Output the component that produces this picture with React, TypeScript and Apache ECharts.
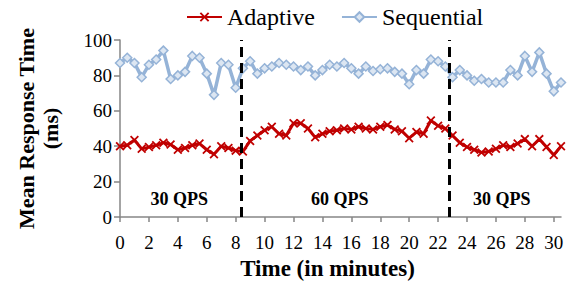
import React, { useEffect, useRef } from "react";
import * as echarts from "echarts";

const minutes = [
  0, 0.5, 1, 1.5, 2, 2.5, 3, 3.5, 4, 4.5, 5, 5.5, 6, 6.5, 7, 7.5, 8, 8.5, 9, 9.5,
  10, 10.5, 11, 11.5, 12, 12.5, 13, 13.5, 14, 14.5, 15, 15.5, 16, 16.5, 17, 17.5,
  18, 18.5, 19, 19.5, 20, 20.5, 21, 21.5, 22, 22.5, 23, 23.5, 24, 24.5, 25, 25.5,
  26, 26.5, 27, 27.5, 28, 28.5, 29, 29.5, 30, 30.5,
];

const adaptive = [
  40, 40.5, 43.5, 38.5, 39.5, 40.5, 42, 41, 38, 39,
  40.5, 41.5, 38, 35.5, 40, 39, 37.5, 37,
  43, 46, 49, 51, 47, 46, 53, 53, 50, 45, 47, 48.5, 49,
  50, 49.5, 51, 50, 49.5, 51, 52, 49.5, 48.5, 44.5,
  48, 47, 54.5, 51.5, 50, 46, 42, 39.5, 38, 36.5, 37, 38.5,
  40.5, 39.5, 41.5, 44, 40, 44, 39.5, 35, 40,
];

const sequential = [
  87, 90, 87, 79, 86, 89, 94, 78, 80, 82,
  91, 90, 81, 69, 87, 86, 73, 84,
  88, 81, 84, 85, 87, 86, 85, 83, 85, 80, 83, 86, 85,
  87, 84, 81, 85, 82.5, 83.5, 84, 82, 81, 75,
  83, 81, 89, 88, 85, 79, 83, 80, 77, 78, 76, 76,
  76, 83, 80, 91, 82, 93, 81, 71, 76,
];

const xTicks = [0, 2, 4, 6, 8, 10, 12, 14, 16, 18, 20, 22, 24, 26, 28, 30];
const phaseBoundaries = [8.4, 22.8];
const phaseLabels = [
  { t: 4.1, v: 10, text: "30 QPS" },
  { t: 15.2, v: 10, text: "60 QPS" },
  { t: 26.4, v: 10, text: "30 QPS" },
];

const FONT = "Liberation Serif";
const X_PATH =
  "path://M0,1.4L1.4,0L5,3.6L8.6,0L10,1.4L6.4,5L10,8.6L8.6,10L5,6.4L1.4,10L0,8.6L3.6,5Z";

export default function App() {
  const ref = useRef<HTMLDivElement>(null);
  useEffect(() => {
    document.body.style.margin = "0";
    if (!ref.current) return;
    const chart = echarts.init(ref.current, null, { renderer: "svg" });
    const pair = (arr: number[]) => minutes.map((m, i) => [m, arr[i]]);
    chart.setOption({
      animation: false,
      textStyle: { fontFamily: FONT },
      legend: {
        left: 181,
        top: 0,
        itemWidth: 35,
        itemHeight: 12,
        itemGap: 26,
        textStyle: { fontFamily: FONT, fontSize: 24, color: "#000" },
        data: ["Adaptive", "Sequential"],
      },
      grid: { left: 120, right: 21, top: 40, bottom: 70, outerBoundsMode: "none" },
      xAxis: {
        type: "value",
        min: 0,
        max: 30.5,
        name: "Time (in minutes)",
        nameLocation: "middle",
        nameGap: 38,
        nameTextStyle: {
          fontFamily: FONT,
          fontWeight: "bold",
          fontSize: 23,
          color: "#000",
          padding: [0, 26, 0, 0],
        },
        axisLine: { lineStyle: { color: "#868686", width: 1.5 } },
        axisTick: {
          show: true,
          length: 5,
          customValues: xTicks,
          lineStyle: { color: "#868686", width: 1.5 },
        },
        axisLabel: {
          customValues: xTicks,
          fontFamily: FONT,
          fontSize: 19,
          color: "#000",
          margin: 16,
        },
        splitLine: { show: false },
      },
      yAxis: {
        type: "value",
        min: 0,
        max: 100,
        interval: 20,
        name: "Mean Response Time\n(ms)",
        nameLocation: "middle",
        nameGap: 58,
        nameTextStyle: {
          fontFamily: FONT,
          fontWeight: "bold",
          fontSize: 22,
          color: "#000",
          lineHeight: 24,
        },
        axisLine: { show: true, lineStyle: { color: "#868686", width: 1.5 } },
        axisTick: { show: true, length: 6, lineStyle: { color: "#868686", width: 1.5 } },
        axisLabel: { fontFamily: FONT, fontSize: 19, color: "#000", margin: 8 },
        splitLine: { show: false },
      },
      series: [
        {
          name: "Adaptive",
          type: "line",
          data: pair(adaptive),
          symbol: X_PATH,
          symbolSize: 9,
          lineStyle: { color: "#C00000", width: 3 },
          itemStyle: { color: "#C00000" },
          z: 3,
          markLine: {
            silent: true,
            symbol: "none",
            label: { show: false },
            lineStyle: { color: "#000", width: 3, type: [10, 6] },
            data: phaseBoundaries.map((b) => ({ xAxis: b })),
          },
          markPoint: {
            silent: true,
            symbol: "circle",
            symbolSize: 0,
            label: {
              show: true,
              position: "inside",
              fontFamily: FONT,
              fontWeight: "bold",
              fontSize: 18,
              color: "#000",
              formatter: (p: any) => p.name,
            },
            data: phaseLabels.map((p) => ({ name: p.text, coord: [p.t, p.v] })),
          },
        },
        {
          name: "Sequential",
          type: "line",
          data: pair(sequential),
          symbol: "diamond",
          symbolSize: 9,
          lineStyle: { color: "#95B3D7", width: 3.5 },
          itemStyle: { color: "#DCE6F2", borderColor: "#95B3D7", borderWidth: 1.5 },
          z: 2,
        },
      ],
    });
    return () => chart.dispose();
  }, []);
  return <div ref={ref} style={{ width: 582, height: 287 }} />;
}
